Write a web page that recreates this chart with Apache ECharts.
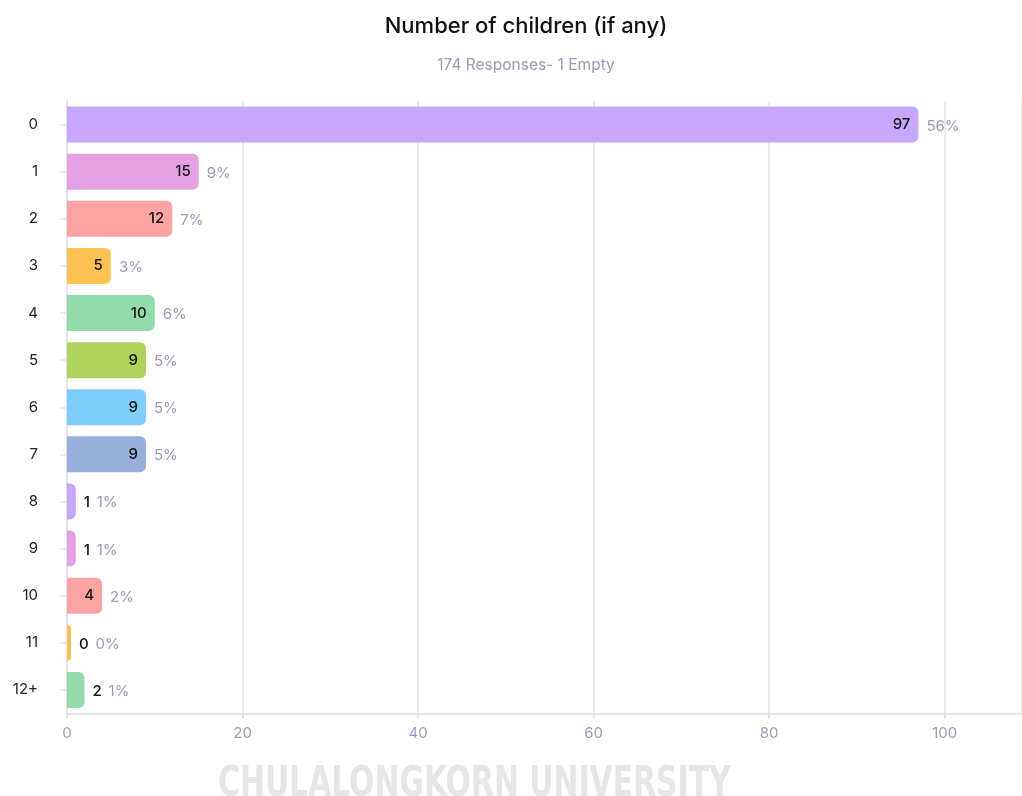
<!DOCTYPE html>
<html>
<head>
<meta charset="utf-8">
<script src="https://cdn.jsdelivr.net/npm/echarts@6/dist/echarts.min.js"></script>
<style>
  html, body { margin: 0; padding: 0; background: #fff; }
  #main { width: 1022px; height: 796px; }
</style>
</head>
<body>
<div id="main"></div>
<script>
// data
var categories = ['0', '1', '2', '3', '4', '5', '6', '7', '8', '9', '10', '11', '12+'];
var counts = [97, 15, 12, 5, 10, 9, 9, 9, 1, 1, 4, 0, 2];
var percents = [56, 9, 7, 3, 6, 5, 5, 5, 1, 1, 2, 0, 1];
var xTicks = [0, 20, 40, 60, 80, 100];

var palette = ['#c6a7fd', '#e3a1e2', '#fca4a4', '#ffc151', '#93dbab', '#aed25c', '#7fcdfb', '#98afdc'];
var insideMin = 4; // bars this long or longer carry their count inside

var fontFamily = 'Inter, "Noto Sans", sans-serif';

var myChart = echarts.init(document.getElementById('main'));

var barData = counts.map(function (v, i) {
    return {
        value: v,
        itemStyle: { color: palette[i % palette.length] },
        label: { show: v >= insideMin }
    };
});

var labelData = counts.map(function (v) {
    return v;
});

option = {
    animation: false,
    textStyle: { fontFamily: fontFamily },
    title: {
        text: 'Number of children (if any)',
        subtext: '174 Responses- 1 Empty',
        left: 521,
        top: 10,
        textAlign: 'center',
        itemGap: 20,
        textStyle: { fontFamily: fontFamily, fontSize: 22, fontWeight: 500, color: '#111111' },
        subtextStyle: { fontFamily: fontFamily, fontSize: 15.5, color: '#9c9ab7' }
    },
    grid: { left: 67, right: 0, top: 101, bottom: 82.5, containLabel: false },
    xAxis: {
        type: 'value',
        min: 0,
        max: 108.8,
        interval: 20,
        axisLine: { show: true, lineStyle: { color: '#e4e4ef', width: 2 } },
        axisTick: { show: true, length: 5, lineStyle: { color: '#e4e4ef', width: 2 } },
        splitLine: { show: true, lineStyle: { color: '#e2e2ee', width: 1.5 } },
        axisLabel: {
            showMaxLabel: false,
            margin: 12,
            fontSize: 15,
            color: '#9c9ab7',
            fontFamily: fontFamily,
            formatter: function (v) { return xTicks.indexOf(v) >= 0 ? String(v) : ''; }
        }
    },
    yAxis: {
        type: 'category',
        data: categories,
        inverse: true,
        axisLine: { show: true, lineStyle: { color: '#e2e2ee', width: 2 } },
        axisTick: { show: true, length: 7, alignWithLabel: true, lineStyle: { color: '#e2e2ee', width: 1.5 } },
        axisLabel: { margin: 29, fontSize: 15, color: '#222222', fontFamily: fontFamily, padding: [3, 0, 0, 0] }
    },
    series: [
        {
            name: 'count',
            type: 'bar',
            barWidth: 36,
            barMinHeight: 4,
            data: barData,
            itemStyle: { borderRadius: [0, 6, 6, 0] },
            label: {
                position: 'insideRight',
                distance: 8,
                fontSize: 15,
                fontWeight: 500,
                color: '#111111',
                fontFamily: fontFamily,
                padding: [3, 0, 0, 0]
            },
            z: 2
        },
        {
            name: 'pct',
            type: 'bar',
            barWidth: 36,
            barGap: '-100%',
            barMinHeight: 4,
            data: labelData,
            itemStyle: { color: 'rgba(0,0,0,0)' },
            silent: true,
            label: {
                show: true,
                position: 'right',
                distance: 8,
                fontFamily: fontFamily,
                padding: [3, 0, 0, 0],
                formatter: function (p) {
                    var v = counts[p.dataIndex];
                    var pct = '{p|' + percents[p.dataIndex] + '%}';
                    return v >= insideMin ? pct : '{v|' + v + '}  ' + pct;
                },
                rich: {
                    v: { fontSize: 15, fontWeight: 500, color: '#111111', fontFamily: fontFamily },
                    p: { fontSize: 15, color: '#9c9ab7', fontFamily: fontFamily }
                }
            },
            z: 3
        }
    ],
    graphic: [{
        type: 'text',
        left: 218,
        top: 764,
        scaleX: 0.79,
        silent: true,
        style: {
            text: 'CHULALONGKORN UNIVERSITY',
            fontSize: 42,
            fontWeight: 'bold',
            fontFamily: '"Liberation Sans Narrow", "DejaVu Sans Condensed", sans-serif',
            fill: '#e6e6e6'
        }
    }]
};

myChart.setOption(option);
</script>
</body>
</html>
